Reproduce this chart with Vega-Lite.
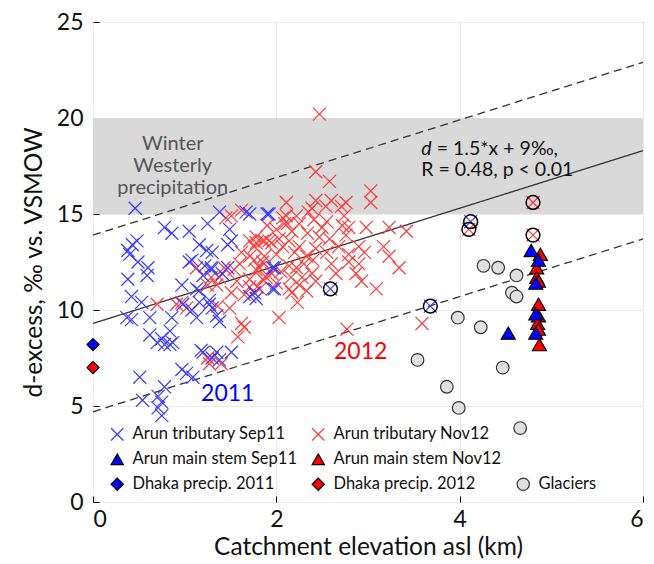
{
  "$schema": "https://vega.github.io/schema/vega-lite/v6.json",
  "width": 550,
  "height": 480,
  "autosize": {"type": "none"},
  "padding": {"left": 93, "top": 22, "right": 11, "bottom": 62},
  "config": {
    "font": "Lato",
    "view": {"stroke": "#000", "strokeWidth": 1},
    "axis": {
      "domain": false,
      "labelFontSize": 23,
      "labelColor": "#111",
      "titleFontSize": 24.5,
      "titleFontWeight": "normal",
      "titleColor": "#111",
      "tickColor": "#000",
      "tickSize": 6,
      "grid": true,
      "gridColor": "#ebebeb"
    }
  },
  "datasets": {
    "pts": [
      {"series": "Arun tributary Nov12", "x": 2.47, "y": 20.2},
      {"series": "Arun tributary Nov12", "x": 2.43, "y": 17.2},
      {"series": "Arun tributary Nov12", "x": 2.58, "y": 16.7},
      {"series": "Arun tributary Nov12", "x": 3.03, "y": 16.2},
      {"series": "Arun tributary Nov12", "x": 3.03, "y": 15.6},
      {"series": "Arun tributary Nov12", "x": 2.11, "y": 15.6},
      {"series": "Arun tributary Nov12", "x": 2.43, "y": 15.7},
      {"series": "Arun tributary Nov12", "x": 2.6, "y": 15.7},
      {"series": "Arun tributary Nov12", "x": 2.76, "y": 15.6},
      {"series": "Arun tributary Nov12", "x": 2.71, "y": 15.4},
      {"series": "Arun tributary Nov12", "x": 2.54, "y": 15.4},
      {"series": "Arun tributary Nov12", "x": 2.39, "y": 15.3},
      {"series": "Arun tributary Nov12", "x": 2.11, "y": 14.9},
      {"series": "Arun tributary Nov12", "x": 2.22, "y": 14.9},
      {"series": "Arun tributary Nov12", "x": 2.74, "y": 14.9},
      {"series": "Arun tributary Nov12", "x": 2.09, "y": 14.5},
      {"series": "Arun tributary Nov12", "x": 2.25, "y": 14.5},
      {"series": "Arun tributary Nov12", "x": 2.41, "y": 14.7},
      {"series": "Arun tributary Nov12", "x": 2.5, "y": 14.3},
      {"series": "Arun tributary Nov12", "x": 2.72, "y": 14.4},
      {"series": "Arun tributary Nov12", "x": 2.79, "y": 14.3},
      {"series": "Arun tributary Nov12", "x": 2.98, "y": 14.3},
      {"series": "Arun tributary Nov12", "x": 3.23, "y": 14.3},
      {"series": "Arun tributary Nov12", "x": 3.42, "y": 14.1},
      {"series": "Arun tributary Nov12", "x": 2.17, "y": 14.1},
      {"series": "Arun tributary Nov12", "x": 2.34, "y": 14.0},
      {"series": "Arun tributary Nov12", "x": 2.76, "y": 13.9},
      {"series": "Arun tributary Nov12", "x": 2.47, "y": 13.8},
      {"series": "Arun tributary Nov12", "x": 2.58, "y": 13.7},
      {"series": "Arun tributary Nov12", "x": 2.14, "y": 13.6},
      {"series": "Arun tributary Nov12", "x": 1.78, "y": 13.8},
      {"series": "Arun tributary Nov12", "x": 1.87, "y": 13.6},
      {"series": "Arun tributary Nov12", "x": 1.95, "y": 13.5},
      {"series": "Arun tributary Nov12", "x": 1.76, "y": 13.3},
      {"series": "Arun tributary Nov12", "x": 2.07, "y": 13.3},
      {"series": "Arun tributary Nov12", "x": 2.25, "y": 13.3},
      {"series": "Arun tributary Nov12", "x": 2.43, "y": 13.2},
      {"series": "Arun tributary Nov12", "x": 2.9, "y": 13.3},
      {"series": "Arun tributary Nov12", "x": 3.17, "y": 13.3},
      {"series": "Arun tributary Nov12", "x": 2.96, "y": 13.0},
      {"series": "Arun tributary Nov12", "x": 2.79, "y": 12.9},
      {"series": "Arun tributary Nov12", "x": 2.55, "y": 13.0},
      {"series": "Arun tributary Nov12", "x": 2.33, "y": 12.8},
      {"series": "Arun tributary Nov12", "x": 1.87, "y": 12.8},
      {"series": "Arun tributary Nov12", "x": 1.76, "y": 12.6},
      {"series": "Arun tributary Nov12", "x": 3.23, "y": 12.8},
      {"series": "Arun tributary Nov12", "x": 2.9, "y": 12.4},
      {"series": "Arun tributary Nov12", "x": 2.79, "y": 12.5},
      {"series": "Arun tributary Nov12", "x": 2.14, "y": 12.3},
      {"series": "Arun tributary Nov12", "x": 2.22, "y": 12.2},
      {"series": "Arun tributary Nov12", "x": 1.82, "y": 12.2},
      {"series": "Arun tributary Nov12", "x": 3.34, "y": 12.2},
      {"series": "Arun tributary Nov12", "x": 2.87, "y": 11.9},
      {"series": "Arun tributary Nov12", "x": 2.39, "y": 11.9},
      {"series": "Arun tributary Nov12", "x": 2.28, "y": 11.7},
      {"series": "Arun tributary Nov12", "x": 2.16, "y": 11.7},
      {"series": "Arun tributary Nov12", "x": 1.85, "y": 11.6},
      {"series": "Arun tributary Nov12", "x": 1.71, "y": 11.6},
      {"series": "Arun tributary Nov12", "x": 2.93, "y": 11.5},
      {"series": "Arun tributary Nov12", "x": 2.43, "y": 11.5},
      {"series": "Arun tributary Nov12", "x": 2.25, "y": 11.3},
      {"series": "Arun tributary Nov12", "x": 2.14, "y": 11.1},
      {"series": "Arun tributary Nov12", "x": 2.33, "y": 11.0},
      {"series": "Arun tributary Nov12", "x": 3.09, "y": 11.1},
      {"series": "Arun tributary Nov12", "x": 1.82, "y": 11.1},
      {"series": "Arun tributary Nov12", "x": 2.17, "y": 10.9},
      {"series": "Arun tributary Nov12", "x": 2.23, "y": 10.4},
      {"series": "Arun tributary Nov12", "x": 2.03, "y": 9.6},
      {"series": "Arun tributary Nov12", "x": 2.77, "y": 9.0},
      {"series": "Arun tributary Nov12", "x": 3.59, "y": 9.3},
      {"series": "Arun tributary Nov12", "x": 1.51, "y": 14.9},
      {"series": "Arun tributary Nov12", "x": 1.62, "y": 15.2},
      {"series": "Arun tributary Nov12", "x": 1.71, "y": 13.6},
      {"series": "Arun tributary Nov12", "x": 1.78, "y": 13.5},
      {"series": "Arun tributary Nov12", "x": 1.85, "y": 13.6},
      {"series": "Arun tributary Nov12", "x": 1.92, "y": 13.6},
      {"series": "Arun tributary Nov12", "x": 2.03, "y": 13.7},
      {"series": "Arun tributary Nov12", "x": 2.07, "y": 14.8},
      {"series": "Arun tributary Nov12", "x": 2.12, "y": 14.5},
      {"series": "Arun tributary Nov12", "x": 1.62, "y": 13.0},
      {"series": "Arun tributary Nov12", "x": 1.71, "y": 12.8},
      {"series": "Arun tributary Nov12", "x": 1.85, "y": 12.5},
      {"series": "Arun tributary Nov12", "x": 1.6, "y": 12.4},
      {"series": "Arun tributary Nov12", "x": 1.54, "y": 12.1},
      {"series": "Arun tributary Nov12", "x": 1.43, "y": 12.2},
      {"series": "Arun tributary Nov12", "x": 1.38, "y": 11.7},
      {"series": "Arun tributary Nov12", "x": 1.29, "y": 11.7},
      {"series": "Arun tributary Nov12", "x": 1.25, "y": 11.3},
      {"series": "Arun tributary Nov12", "x": 1.57, "y": 11.5},
      {"series": "Arun tributary Nov12", "x": 1.71, "y": 11.2},
      {"series": "Arun tributary Nov12", "x": 1.79, "y": 11.2},
      {"series": "Arun tributary Nov12", "x": 1.89, "y": 11.7},
      {"series": "Arun tributary Nov12", "x": 1.78, "y": 12.1},
      {"series": "Arun tributary Nov12", "x": 1.51, "y": 10.9},
      {"series": "Arun tributary Nov12", "x": 1.65, "y": 10.8},
      {"series": "Arun tributary Nov12", "x": 0.91, "y": 10.3},
      {"series": "Arun tributary Nov12", "x": 0.97, "y": 10.4},
      {"series": "Arun tributary Nov12", "x": 1.36, "y": 10.2},
      {"series": "Arun tributary Nov12", "x": 1.49, "y": 10.1},
      {"series": "Arun tributary Nov12", "x": 1.62, "y": 9.3},
      {"series": "Arun tributary Nov12", "x": 1.65, "y": 9.1},
      {"series": "Arun tributary Nov12", "x": 1.58, "y": 8.6},
      {"series": "Arun tributary Nov12", "x": 1.25, "y": 7.5},
      {"series": "Arun tributary Nov12", "x": 1.27, "y": 7.2},
      {"series": "Arun tributary Nov12", "x": 1.4, "y": 7.2},
      {"series": "Arun tributary Nov12", "x": 0.7, "y": 10.3},
      {"series": "Arun tributary Nov12", "x": 1.13, "y": 12.2},
      {"series": "Arun tributary Nov12", "x": 1.35, "y": 11.3},
      {"series": "Arun tributary Nov12", "x": 1.02, "y": 10.1},
      {"series": "Arun tributary Nov12", "x": 2.0, "y": 12.9},
      {"series": "Arun tributary Nov12", "x": 2.05, "y": 12.0},
      {"series": "Arun tributary Nov12", "x": 1.95, "y": 11.9},
      {"series": "Arun tributary Nov12", "x": 2.3, "y": 12.4},
      {"series": "Arun tributary Nov12", "x": 2.4, "y": 12.6},
      {"series": "Arun tributary Nov12", "x": 2.6, "y": 12.4},
      {"series": "Arun tributary Nov12", "x": 2.65, "y": 11.9},
      {"series": "Arun tributary Nov12", "x": 2.55, "y": 14.6},
      {"series": "Arun tributary Nov12", "x": 2.35, "y": 15.1},
      {"series": "Arun tributary Nov12", "x": 2.68, "y": 13.3},
      {"series": "Arun tributary Nov12", "x": 2.0, "y": 14.2},
      {"series": "Arun tributary Nov12", "x": 1.9, "y": 14.4},
      {"series": "Arun tributary Nov12", "x": 2.2, "y": 13.0},
      {"series": "Arun tributary Nov12", "x": 2.0, "y": 11.4},
      {"series": "Arun tributary Nov12", "x": 1.45, "y": 14.8},
      {"series": "Arun tributary Nov12", "x": 4.1, "y": 14.2},
      {"series": "Arun tributary Nov12", "x": 4.8, "y": 15.6},
      {"series": "Arun tributary Nov12", "x": 4.8, "y": 13.9},
      {"series": "Arun tributary Sep11", "x": 0.46, "y": 15.3},
      {"series": "Arun tributary Sep11", "x": 0.78, "y": 14.3},
      {"series": "Arun tributary Sep11", "x": 0.86, "y": 14.0},
      {"series": "Arun tributary Sep11", "x": 1.05, "y": 14.1},
      {"series": "Arun tributary Sep11", "x": 1.25, "y": 14.5},
      {"series": "Arun tributary Sep11", "x": 0.48, "y": 13.6},
      {"series": "Arun tributary Sep11", "x": 0.43, "y": 13.4},
      {"series": "Arun tributary Sep11", "x": 0.38, "y": 13.1},
      {"series": "Arun tributary Sep11", "x": 0.49, "y": 12.5},
      {"series": "Arun tributary Sep11", "x": 0.4, "y": 12.9},
      {"series": "Arun tributary Sep11", "x": 0.6, "y": 12.2},
      {"series": "Arun tributary Sep11", "x": 0.59, "y": 11.8},
      {"series": "Arun tributary Sep11", "x": 0.38, "y": 11.6},
      {"series": "Arun tributary Sep11", "x": 0.42, "y": 10.7},
      {"series": "Arun tributary Sep11", "x": 0.53, "y": 10.4},
      {"series": "Arun tributary Sep11", "x": 0.37, "y": 9.6},
      {"series": "Arun tributary Sep11", "x": 0.42, "y": 9.5},
      {"series": "Arun tributary Sep11", "x": 0.62, "y": 9.6},
      {"series": "Arun tributary Sep11", "x": 0.86, "y": 9.6},
      {"series": "Arun tributary Sep11", "x": 0.97, "y": 11.3},
      {"series": "Arun tributary Sep11", "x": 1.05, "y": 12.5},
      {"series": "Arun tributary Sep11", "x": 1.16, "y": 13.4},
      {"series": "Arun tributary Sep11", "x": 1.24, "y": 13.1},
      {"series": "Arun tributary Sep11", "x": 1.29, "y": 12.2},
      {"series": "Arun tributary Sep11", "x": 1.2, "y": 11.8},
      {"series": "Arun tributary Sep11", "x": 1.22, "y": 12.3},
      {"series": "Arun tributary Sep11", "x": 1.13, "y": 11.1},
      {"series": "Arun tributary Sep11", "x": 1.16, "y": 10.4},
      {"series": "Arun tributary Sep11", "x": 1.08, "y": 10.0},
      {"series": "Arun tributary Sep11", "x": 0.98, "y": 10.3},
      {"series": "Arun tributary Sep11", "x": 1.27, "y": 10.3},
      {"series": "Arun tributary Sep11", "x": 1.13, "y": 9.6},
      {"series": "Arun tributary Sep11", "x": 1.3, "y": 10.1},
      {"series": "Arun tributary Sep11", "x": 0.62, "y": 8.7},
      {"series": "Arun tributary Sep11", "x": 0.7, "y": 8.3},
      {"series": "Arun tributary Sep11", "x": 0.75, "y": 8.5},
      {"series": "Arun tributary Sep11", "x": 0.84, "y": 8.9},
      {"series": "Arun tributary Sep11", "x": 0.84, "y": 8.2},
      {"series": "Arun tributary Sep11", "x": 0.78, "y": 8.2},
      {"series": "Arun tributary Sep11", "x": 1.2, "y": 7.8},
      {"series": "Arun tributary Sep11", "x": 1.3, "y": 7.5},
      {"series": "Arun tributary Sep11", "x": 0.51, "y": 6.5},
      {"series": "Arun tributary Sep11", "x": 0.97, "y": 6.9},
      {"series": "Arun tributary Sep11", "x": 1.02, "y": 6.7},
      {"series": "Arun tributary Sep11", "x": 1.09, "y": 6.5},
      {"series": "Arun tributary Sep11", "x": 0.78, "y": 6.0},
      {"series": "Arun tributary Sep11", "x": 0.54, "y": 5.3},
      {"series": "Arun tributary Sep11", "x": 0.71, "y": 5.5},
      {"series": "Arun tributary Sep11", "x": 0.75, "y": 5.2},
      {"series": "Arun tributary Sep11", "x": 0.71, "y": 4.9},
      {"series": "Arun tributary Sep11", "x": 0.75, "y": 4.5},
      {"series": "Arun tributary Sep11", "x": 1.38, "y": 15.1},
      {"series": "Arun tributary Sep11", "x": 1.67, "y": 15.1},
      {"series": "Arun tributary Sep11", "x": 1.9, "y": 15.0},
      {"series": "Arun tributary Sep11", "x": 1.49, "y": 14.2},
      {"series": "Arun tributary Sep11", "x": 1.3, "y": 13.0},
      {"series": "Arun tributary Sep11", "x": 1.51, "y": 13.6},
      {"series": "Arun tributary Sep11", "x": 1.47, "y": 13.4},
      {"series": "Arun tributary Sep11", "x": 1.08, "y": 12.6},
      {"series": "Arun tributary Sep11", "x": 1.29, "y": 12.1},
      {"series": "Arun tributary Sep11", "x": 1.47, "y": 12.2},
      {"series": "Arun tributary Sep11", "x": 1.41, "y": 11.9},
      {"series": "Arun tributary Sep11", "x": 1.16, "y": 11.0},
      {"series": "Arun tributary Sep11", "x": 1.27, "y": 10.5},
      {"series": "Arun tributary Sep11", "x": 1.35, "y": 9.7},
      {"series": "Arun tributary Sep11", "x": 1.38, "y": 9.4},
      {"series": "Arun tributary Sep11", "x": 1.71, "y": 10.7},
      {"series": "Arun tributary Sep11", "x": 1.78, "y": 10.6},
      {"series": "Arun tributary Sep11", "x": 1.98, "y": 11.1},
      {"series": "Arun tributary Sep11", "x": 1.98, "y": 12.2},
      {"series": "Arun tributary Sep11", "x": 1.18, "y": 7.9},
      {"series": "Arun tributary Sep11", "x": 1.35, "y": 7.8},
      {"series": "Arun tributary Sep11", "x": 1.38, "y": 7.4},
      {"series": "Arun tributary Sep11", "x": 1.51, "y": 7.8},
      {"series": "Arun tributary Sep11", "x": 0.87, "y": 8.3},
      {"series": "Arun tributary Sep11", "x": 1.71, "y": 15.0},
      {"series": "Arun tributary Sep11", "x": 1.92, "y": 15.0},
      {"series": "Arun tributary Sep11", "x": 1.96, "y": 12.2},
      {"series": "Arun tributary Sep11", "x": 1.96, "y": 11.1},
      {"series": "Arun tributary Sep11", "x": 1.76, "y": 10.9},
      {"series": "Arun tributary Sep11", "x": 2.59, "y": 11.1},
      {"series": "Arun tributary Sep11", "x": 3.68, "y": 10.2},
      {"series": "Arun tributary Sep11", "x": 4.12, "y": 14.6},
      {"series": "Glaciers", "x": 4.26, "y": 12.3},
      {"series": "Glaciers", "x": 4.42, "y": 12.2},
      {"series": "Glaciers", "x": 4.62, "y": 11.8},
      {"series": "Glaciers", "x": 4.57, "y": 10.9},
      {"series": "Glaciers", "x": 4.62, "y": 10.7},
      {"series": "Glaciers", "x": 3.98, "y": 9.6},
      {"series": "Glaciers", "x": 4.23, "y": 9.1},
      {"series": "Glaciers", "x": 3.54, "y": 7.4},
      {"series": "Glaciers", "x": 4.47, "y": 7.0},
      {"series": "Glaciers", "x": 3.86, "y": 6.0},
      {"series": "Glaciers", "x": 3.99, "y": 4.9},
      {"series": "Glaciers", "x": 4.66, "y": 3.85},
      {"series": "Arun main stem Nov12", "x": 4.88, "y": 12.9},
      {"series": "Arun main stem Nov12", "x": 4.84, "y": 12.2},
      {"series": "Arun main stem Nov12", "x": 4.84, "y": 11.7},
      {"series": "Arun main stem Nov12", "x": 4.86, "y": 11.5},
      {"series": "Arun main stem Nov12", "x": 4.86, "y": 10.3},
      {"series": "Arun main stem Nov12", "x": 4.86, "y": 9.7},
      {"series": "Arun main stem Nov12", "x": 4.85, "y": 9.3},
      {"series": "Arun main stem Nov12", "x": 4.86, "y": 9.0},
      {"series": "Arun main stem Nov12", "x": 4.87, "y": 8.2},
      {"series": "Arun main stem Sep11", "x": 4.78, "y": 13.1},
      {"series": "Arun main stem Sep11", "x": 4.86, "y": 12.6},
      {"series": "Arun main stem Sep11", "x": 4.83, "y": 11.4},
      {"series": "Arun main stem Sep11", "x": 4.83, "y": 9.8},
      {"series": "Arun main stem Sep11", "x": 4.83, "y": 8.8},
      {"series": "Arun main stem Sep11", "x": 4.53, "y": 8.8},
      {"series": "Dhaka precip. 2011", "x": 0, "y": 8.2},
      {"series": "Dhaka precip. 2012", "x": 0, "y": 7.0}
    ],
    "circled": [
      {"x": 2.59, "y": 11.1},
      {"x": 3.68, "y": 10.2},
      {"x": 4.12, "y": 14.6},
      {"x": 4.1, "y": 14.2},
      {"x": 4.8, "y": 15.6},
      {"x": 4.8, "y": 13.9}
    ],
    "lines": [
      {"line": "fit", "x": 0, "y": 9.3},
      {"line": "fit", "x": 6, "y": 18.3},
      {"line": "upper", "x": 0, "y": 13.9},
      {"line": "upper", "x": 6, "y": 22.9},
      {"line": "lower", "x": 0, "y": 4.7},
      {"line": "lower", "x": 6, "y": 13.7}
    ],
    "band": [{"x": 0, "x2": 6, "y": 15, "y2": 20}],
    "one": [{}]
  },
  "layer": [
    {
      "data": {"name": "band"},
      "mark": {"type": "rect", "color": "#d9d9d9"},
      "encoding": {
        "x": {"field": "x", "type": "quantitative", "scale": {"domain": [0, 6], "nice": false},
              "axis": {"values": [0, 2, 4, 6], "format": "d", "offset": -6, "title": "Catchment elevation asl (km)", "titlePadding": 4, "labelPadding": 6}},
        "x2": {"field": "x2"},
        "y": {"field": "y", "type": "quantitative", "scale": {"domain": [0, 25], "nice": false},
              "axis": {"values": [0, 5, 10, 15, 20, 25], "offset": -6, "title": "d-excess, ‰ vs. VSMOW", "titlePadding": 10, "labelPadding": 10}},
        "y2": {"field": "y2"}
      }
    },
    {
      "data": {"name": "lines"},
      "mark": {"type": "line", "color": "#333", "strokeWidth": 1.3},
      "encoding": {
        "x": {"field": "x", "type": "quantitative"},
        "y": {"field": "y", "type": "quantitative"},
        "detail": {"field": "line"},
        "strokeDash": {"field": "line", "type": "nominal", "legend": null,
                       "scale": {"domain": ["fit", "upper", "lower"], "range": [[1, 0], [8, 5], [8, 5]]}}
      }
    },
    {
      "data": {"name": "pts"},
      "transform": [{"filter": "indexof(datum.series, 'tributary') >= 0"}],
      "mark": {"type": "point", "strokeWidth": 1.2, "size": 170, "opacity": 1},
      "encoding": {
        "x": {"field": "x", "type": "quantitative"},
        "y": {"field": "y", "type": "quantitative"},
        "shape": {
          "field": "series", "type": "nominal",
          "scale": {
            "domain": ["Arun tributary Sep11", "Arun main stem Sep11", "Dhaka precip. 2011", "Arun tributary Nov12", "Arun main stem Nov12", "Dhaka precip. 2012", "b1", "b2", "Glaciers"],
            "range": ["M-1,-1L1,1M-1,1L1,-1", "triangle-up", "diamond", "M-1,-1L1,1M-1,1L1,-1", "triangle-up", "diamond", "circle", "circle", "circle"]
          },
          "legend": {
            "title": null,
            "orient": "none",
            "legendX": 16,
            "legendY": 404,
            "padding": 0,
            "columns": 3,
            "columnPadding": 12,
            "rowPadding": 7,
            "labelFontSize": 16.5,
            "labelColor": "#111",
            "labelLimit": 300,
            "labelOffset": 7,
            "symbolSize": 150,
            "symbolStrokeWidth": 1.2,
            "labelExpr": "datum.label == 'b1' || datum.label == 'b2' ? '' : datum.label"
          }
        },
        "fill": {
          "field": "series", "type": "nominal",
          "scale": {
            "domain": ["Arun tributary Sep11", "Arun main stem Sep11", "Dhaka precip. 2011", "Arun tributary Nov12", "Arun main stem Nov12", "Dhaka precip. 2012", "b1", "b2", "Glaciers"],
            "range": ["transparent", "#0000ff", "#0000ff", "transparent", "#ff0000", "#ff0000", "transparent", "transparent", "#e0e0e0"]
          }
        },
        "stroke": {
          "field": "series", "type": "nominal",
          "scale": {
            "domain": ["Arun tributary Sep11", "Arun main stem Sep11", "Dhaka precip. 2011", "Arun tributary Nov12", "Arun main stem Nov12", "Dhaka precip. 2012", "b1", "b2", "Glaciers"],
            "range": ["#3a3aff", "#000000", "#000000", "#ff3a3a", "#000000", "#000000", "transparent", "transparent", "#333333"]
          }
        }
      }
    },
    {
      "data": {"name": "pts"},
      "transform": [{"filter": "datum.series == 'Glaciers'"}],
      "mark": {"type": "point", "strokeWidth": 1.2, "size": 160, "opacity": 1},
      "encoding": {
        "x": {"field": "x", "type": "quantitative"},
        "y": {"field": "y", "type": "quantitative"},
        "shape": {"field": "series", "type": "nominal"},
        "fill": {"field": "series", "type": "nominal"},
        "stroke": {"field": "series", "type": "nominal"}
      }
    },
    {
      "data": {"name": "pts"},
      "transform": [{"filter": "indexof(datum.series, 'main stem') >= 0"}],
      "mark": {"type": "point", "strokeWidth": 1.1, "size": 200, "opacity": 1},
      "encoding": {
        "x": {"field": "x", "type": "quantitative"},
        "y": {"field": "y", "type": "quantitative"},
        "shape": {"field": "series", "type": "nominal"},
        "fill": {"field": "series", "type": "nominal"},
        "stroke": {"field": "series", "type": "nominal"}
      }
    },
    {
      "data": {"name": "pts"},
      "transform": [{"filter": "indexof(datum.series, 'Dhaka') >= 0"}],
      "mark": {"type": "point", "strokeWidth": 1.1, "size": 150, "opacity": 1},
      "encoding": {
        "x": {"field": "x", "type": "quantitative"},
        "y": {"field": "y", "type": "quantitative"},
        "shape": {"field": "series", "type": "nominal"},
        "fill": {"field": "series", "type": "nominal"},
        "stroke": {"field": "series", "type": "nominal"}
      }
    },
    {
      "data": {"name": "circled"},
      "mark": {"type": "point", "shape": "circle", "filled": false, "stroke": "#000", "strokeWidth": 1.5, "size": 190, "opacity": 1},
      "encoding": {
        "x": {"field": "x", "type": "quantitative"},
        "y": {"field": "y", "type": "quantitative"}
      }
    },
    {
      "data": {"name": "one"},
      "mark": {"type": "text", "align": "center", "baseline": "top", "fontSize": 20, "color": "#555", "lineHeight": 22},
      "encoding": {
        "x": {"datum": 0.87},
        "y": {"datum": 19.15},
        "text": {"value": ["Winter", "Westerly", "precipitation"]}
      }
    },
    {
      "data": {"name": "one"},
      "mark": {"type": "text", "align": "left", "baseline": "middle", "fontSize": 19.5, "fontStyle": "italic", "color": "#111"},
      "encoding": {
        "x": {"datum": 3.58},
        "y": {"datum": 18.4},
        "text": {"value": "d"}
      }
    },
    {
      "data": {"name": "one"},
      "mark": {"type": "text", "align": "left", "baseline": "middle", "fontSize": 19.5, "color": "#111"},
      "encoding": {
        "x": {"datum": 3.75},
        "y": {"datum": 18.4},
        "text": {"value": "= 1.5*x + 9‰,"}
      }
    },
    {
      "data": {"name": "one"},
      "mark": {"type": "text", "align": "left", "baseline": "middle", "fontSize": 19.5, "color": "#111"},
      "encoding": {
        "x": {"datum": 3.58},
        "y": {"datum": 17.3},
        "text": {"value": "R = 0.48, p < 0.01"}
      }
    },
    {
      "data": {"name": "one"},
      "mark": {"type": "text", "align": "center", "baseline": "middle", "fontSize": 23, "color": "#0000ff"},
      "encoding": {
        "x": {"datum": 1.47},
        "y": {"datum": 5.6},
        "text": {"value": "2011"}
      }
    },
    {
      "data": {"name": "one"},
      "mark": {"type": "text", "align": "center", "baseline": "middle", "fontSize": 23, "color": "#ff0000"},
      "encoding": {
        "x": {"datum": 2.92},
        "y": {"datum": 7.8},
        "text": {"value": "2012"}
      }
    }
  ]
}
